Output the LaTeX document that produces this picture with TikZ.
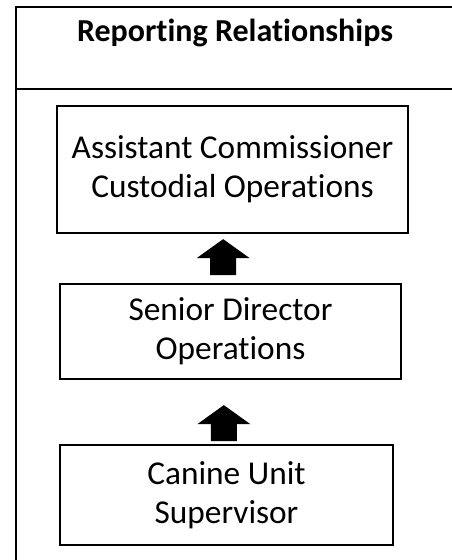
\documentclass[tikz,border=0pt]{standalone}
\usepackage{fontspec}
\setmainfont{Carlito}[Ligatures=NoCommon]
\begin{document}
\begin{tikzpicture}[x=0.75pt,y=0.75pt,
  frame/.style={line width=1.6pt},
  rolebox/.style={draw, line width=1.2pt, align=center, inner sep=0pt,
    font=\fontsize{25}{29.5}\selectfont},
  blockup/.style={fill=black}]
\useasboundingbox (0,0) rectangle (451,-560);

% table frame: top rule, left rule, header rule
\draw[frame] (452,-7) -- (16,-7) -- (16,-562);
\draw[frame] (16,-89) -- (452,-89);
\node[font=\fontsize{24}{29}\selectfont\bfseries] (title) at (235,-33) {Reporting Relationships};

% reporting chain
\node[rolebox, minimum width=263.25pt, minimum height=95.25pt] (acco) at (232.5,-169.5)
  {Assistant Commissioner\\Custodial Operations};
\node[rolebox, minimum width=255.75pt, minimum height=71.25pt] (sdo) at (230.5,-331.5)
  {Senior Director\\Operations};
\node[rolebox, minimum width=249.75pt, minimum height=75pt] (cus) at (226.5,-495)
  {Canine Unit\\Supervisor};

% block arrows pointing up to the next level
\coordinate (tipA) at ([xshift=-7,yshift=-4]acco.south);
\coordinate (tipB) at ([xshift=-5,yshift=-19]sdo.south);
\foreach \t in {tipA,tipB}{
  \fill[blockup] (\t) -- ++(26.5,-19) -- ++(-13.5,0) -- ++(0,-17) -- ++(-26,0)
    -- ++(0,17) -- ++(-13.5,0) -- cycle;
}
\end{tikzpicture}
\end{document}
